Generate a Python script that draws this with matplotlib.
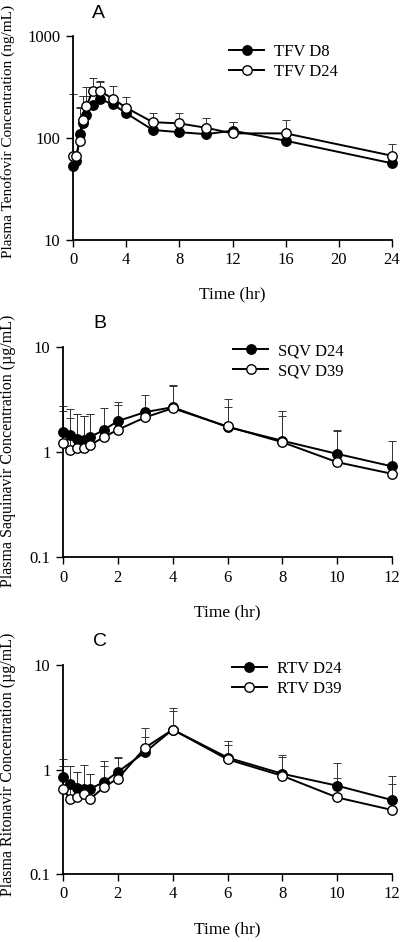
import numpy as np
import matplotlib
matplotlib.use('Agg')
import matplotlib.pyplot as plt

plt.rcParams['font.family'] = ['Liberation Serif', 'DejaVu Serif']

# panel A - tenofovir
t_a = [0, 0.25, 0.5, 0.75, 1, 1.5, 2, 3, 4, 6, 8, 10, 12, 16, 24]
tfv_d8 = [53.5, 60, 109, 139, 168, 211, 241, 214, 175, 120, 114, 109, 118, 94, 56.5]
tfv_d8_err = [0, 0, 88, 121, 92, 0, 116, 0, 0, 0, 0, 0, 27, 0, 0]
tfv_d24 = [67, 67, 93, 150, 206, 291, 289, 243, 198, 143, 139, 126, 111, 111, 67]
tfv_d24_err = [203, 0, 107, 110, 113, 100, 72, 83, 56, 32, 36, 30, 34, 38, 20]

# panel B - saquinavir
t_b = [0, 0.25, 0.5, 0.75, 1, 1.5, 2, 3, 4, 6, 8, 10, 12]
sqv_d24 = [1.55, 1.44, 1.33, 1.31, 1.39, 1.63, 1.97, 2.40, 2.67, 1.73, 1.28, 0.96, 0.73]
sqv_d24_err = [1.17, 1.13, 0.97, 0.89, 0.93, 0.99, 1.0, 1.11, 1.70, 1.47, 1.20, 0.67, 0.53]
sqv_d39 = [1.22, 1.04, 1.09, 1.09, 1.17, 1.39, 1.63, 2.14, 2.61, 1.75, 1.24, 0.80, 0.62]
sqv_d39_err = [1.22, 1.07, 1.21, 1.11, 1.15, 0, 1.19, 0, 1.67, 0.91, 0.95, 0.80, 0]

# panel C - ritonavir
t_c = [0, 0.25, 0.5, 0.75, 1, 1.5, 2, 3, 4, 6, 8, 10, 12]
rtv_d24 = [0.85, 0.73, 0.67, 0.65, 0.655, 0.76, 0.95, 1.47, 2.41, 1.30, 0.91, 0.70, 0.51]
rtv_d24_err = [0.42, 0.34, 0.28, 0, 0.25, 0.45, 0.37, 0.58, 1.43, 0.58, 0.46, 0.46, 0.36]
rtv_d39 = [0.655, 0.525, 0.545, 0.586, 0.525, 0.68, 0.82, 1.62, 2.41, 1.25, 0.87, 0.54, 0.41]
rtv_d39_err = [0.43, 0.55, 0.40, 0.53, 0.38, 0.40, 0.48, 0.90, 1.24, 0.46, 0.46, 0.29, 0.31]

panels = [
    dict(t=t_a, s1=tfv_d8, e1=tfv_d8_err, s2=tfv_d24, e2=tfv_d24_err,
         n1='TFV D8', n2='TFV D24', xmax=24, xt=range(0, 25, 4), ylim=(10, 1000),
         yt=[10, 100, 1000], ylab='Plasma Tenofovir Concentration (ng/mL)',
         letter='A', letter_xy=(98, 13), rect=[73, 36, 392, 240],
         lab_y=131, lab_fs=11, time_y=294, leg=(229, 44)),
    dict(t=t_b, s1=sqv_d24, e1=sqv_d24_err, s2=sqv_d39, e2=sqv_d39_err,
         n1='SQV D24', n2='SQV D39', xmax=12, xt=range(0, 13, 2), ylim=(0.1, 10),
         yt=[0.1, 1, 10], ylab='Plasma Saquinavir Concentration (µg/mL)',
         letter='B', letter_xy=(100, 323), rect=[63, 347, 392, 557],
         lab_y=451, lab_fs=11.5, time_y=612, leg=(233, 343)),
    dict(t=t_c, s1=rtv_d24, e1=rtv_d24_err, s2=rtv_d39, e2=rtv_d39_err,
         n1='RTV D24', n2='RTV D39', xmax=12, xt=range(0, 13, 2), ylim=(0.1, 10),
         yt=[0.1, 1, 10], ylab='Plasma Ritonavir Concentration (µg/mL)',
         letter='C', letter_xy=(100, 642), rect=[63, 665, 392, 874],
         lab_y=764, lab_fs=11.5, time_y=929, leg=(232, 661)),
]

W, H = 400, 942
fig = plt.figure(figsize=(4, 9.42), dpi=100)

for p in panels:
    x0, y0, x1, y1 = p['rect']
    ax = fig.add_axes([x0 / W, 1 - y1 / H, (x1 - x0) / W, (y1 - y0) / H])
    ax.set_yscale('log')
    for s, e, face, name, z in [(p['s1'], p['e1'], 'black', p['n1'], 3),
                                (p['s2'], p['e2'], 'white', p['n2'], 4)]:
        s = np.array(s)
        e = np.array(e)
        ax.errorbar(p['t'], s, yerr=[np.zeros_like(e), e], fmt='none',
                    ecolor='#333333', elinewidth=0.7, capsize=3, capthick=0.7,
                    zorder=2, clip_on=False)
        ax.plot(p['t'], s, '-o', color='black', mfc=face, mec='black',
                ms=6.8, mew=1.0, lw=1.4, label=name, zorder=z, clip_on=False)
    ax.set_xlim(0, p['xmax'])
    ax.set_ylim(*p['ylim'])
    ax.set_xticks(list(p['xt']))
    ax.set_yticks(p['yt'])
    ax.set_yticklabels([('%g' % v) for v in p['yt']])
    ax.yaxis.set_minor_locator(matplotlib.ticker.NullLocator())
    for sp in ['top', 'right']:
        ax.spines[sp].set_visible(False)
    for sp in ['left', 'bottom']:
        ax.spines[sp].set_linewidth(1.3)
    ax.tick_params(direction='out', length=5, width=1.0, labelsize=12, pad=4)
    lx, ly = p['leg']
    ax.legend(loc='upper left', bbox_to_anchor=(lx / W, 1 - ly / H),
              bbox_transform=fig.transFigure, frameon=False, fontsize=12,
              handlelength=2.1, handletextpad=0.6, labelspacing=0.25,
              borderpad=0, borderaxespad=0)
    fig.text(8 / W, 1 - p['lab_y'] / H, p['ylab'], rotation=90,
             ha='center', va='center', fontsize=p['lab_fs'])
    fig.text((x0 + x1) / 2 / W, 1 - p['time_y'] / H, 'Time (hr)',
             ha='center', va='center', fontsize=12.5)
    lx, ly = p['letter_xy']
    fig.text(lx / W, 1 - ly / H, p['letter'], ha='center', va='center',
             fontsize=14, family='Liberation Sans')

fig.savefig('out.png', dpi=100)
